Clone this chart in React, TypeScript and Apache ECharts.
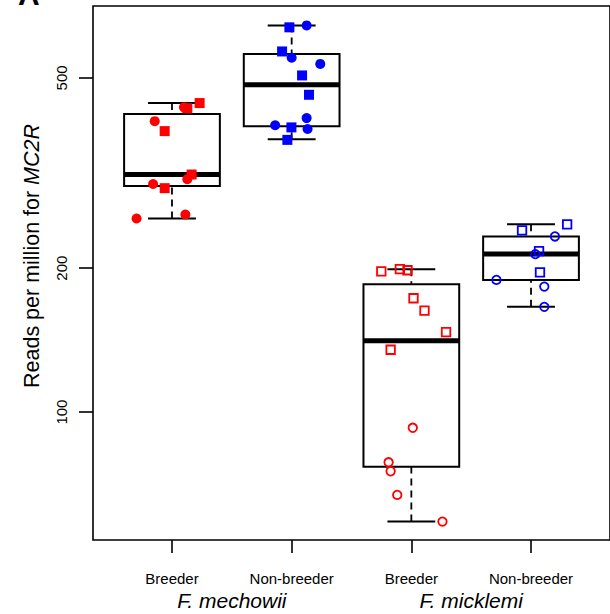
import React, { useEffect, useRef } from "react";
import * as echarts from "echarts";

// ---------- data ----------
const groupLabels = ["Breeder", "Non-breeder", "Breeder", "Non-breeder"];
const speciesLabels = ["F. mechowii", "F. micklemi"];
const speciesPositions = [1.5, 3.5];
const yTickValues = [100, 200, 500];
const yRange = [54, 707];

// box statistics: [lower whisker, Q1, median, Q3, upper whisker]
const boxMechowiiBreeder = [254, 297, 314, 420, 443];
const boxMechowiiNon = [372, 396, 484, 561, 644];
const boxMicklemiBreeder = [59, 76.8, 141, 185, 199];
const boxMicklemiNon = [166, 189, 214, 233, 247];

// individual samples (value, horizontal jitter, shape c = circle / s = square)
const ptsMechowiiBreeder = [254, 259, 443, 432, 434, 406, 387, 314, 307, 300, 294];
const jitMechowiiBreeder = [-0.296, 0.112, 0.231, 0.128, 0.1, -0.144, -0.061, 0.164, 0.128, -0.158, -0.061];
const shpMechowiiBreeder = ["c", "c", "s", "s", "c", "c", "s", "s", "c", "c", "s"];

const ptsMechowiiNon = [638, 644, 568, 551, 535, 506, 461, 412, 398, 394, 391, 371];
const jitMechowiiNon = [-0.019, 0.125, -0.08, 0.0, 0.239, 0.087, 0.145, 0.125, -0.138, -0.002, 0.133, -0.036];
const shpMechowiiNon = ["s", "c", "s", "c", "c", "s", "s", "c", "c", "s", "c", "s"];

const ptsMicklemiBreeder = [197, 199, 198, 173, 163, 147, 135, 92.7, 78.5, 75.2, 67.1, 59.0];
const jitMicklemiBreeder = [-0.251, -0.096, -0.032, 0.018, 0.11, 0.29, -0.173, 0.012, -0.19, -0.173, -0.118, 0.26];
const shpMicklemiBreeder = ["s", "s", "s", "s", "s", "s", "s", "c", "c", "c", "c", "c"];

const ptsMicklemiNon = [240, 247, 233, 217, 214, 196, 189, 183, 166];
const jitMicklemiNon = [-0.075, 0.302, 0.2, 0.067, 0.036, 0.075, -0.289, 0.111, 0.111];
const shpMicklemiNon = ["s", "s", "c", "s", "c", "s", "c", "c", "c"];

const RED = "#FF0000";
const BLUE = "#0000FF";
const FONT = "'Liberation Sans', Arial, Helvetica, sans-serif";

const lg = (v: number) => Math.log10(v);

const boxes = [boxMechowiiBreeder, boxMechowiiNon, boxMicklemiBreeder, boxMicklemiNon];
const groupsPts = [
  { pts: ptsMechowiiBreeder, jit: jitMechowiiBreeder, shp: shpMechowiiBreeder, color: RED, filled: true },
  { pts: ptsMechowiiNon, jit: jitMechowiiNon, shp: shpMechowiiNon, color: BLUE, filled: true },
  { pts: ptsMicklemiBreeder, jit: jitMicklemiBreeder, shp: shpMicklemiBreeder, color: RED, filled: false },
  { pts: ptsMicklemiNon, jit: jitMicklemiNon, shp: shpMicklemiNon, color: BLUE, filled: false },
];

export default function App() {
  const ref = useRef<HTMLDivElement>(null);
  useEffect(() => {
    if (!ref.current) return;
    const chart = echarts.init(ref.current, null, { renderer: "svg" });

    const boxData = boxes.map((b, i) => [i + 1, ...b.map(lg)]);

    const scatterSeries = groupsPts.map((g, gi) => ({
      type: "scatter",
      xAxisIndex: 0,
      yAxisIndex: 0,
      z: 5,
      silent: true,
      data: g.pts.map((v, k) => {
        const isSq = g.shp[k] === "s";
        return {
          value: [gi + 1 + g.jit[k], lg(v)],
          symbol: isSq ? "rect" : "circle",
          symbolSize: g.filled ? 10 : 8.5,
          itemStyle: g.filled
            ? { color: g.color, borderWidth: 0, opacity: 1 }
            : { color: "rgba(0,0,0,0)", borderColor: g.color, borderWidth: 1.8, opacity: 1 },
        };
      }),
    }));

    const option: any = {
      animation: false,
      grid: {
        left: 93,
        top: 6,
        width: 519,
        height: 534,
        show: true,
        borderColor: "#000",
        borderWidth: 1.6,
        backgroundColor: "transparent",
      },
      xAxis: [
        {
          type: "value",
          min: 0.34,
          max: 4.66,
          position: "bottom",
          axisLine: { show: false },
          splitLine: { show: false },
          axisTick: {
            show: true,
            customValues: [1, 2, 3, 4],
            length: 13,
            lineStyle: { color: "#000", width: 1.6 },
          },
          axisLabel: {
            customValues: [1, 2, 3, 4],
            formatter: (v: number) => groupLabels[Math.round(v) - 1],
            margin: 31,
            fontSize: 15,
            fontFamily: FONT,
            color: "#000",
          },
        },
        {
          type: "value",
          min: 0.34,
          max: 4.66,
          position: "bottom",
          axisLine: { show: false },
          splitLine: { show: false },
          axisTick: { show: false },
          axisLabel: {
            customValues: speciesPositions,
            formatter: (v: number) => speciesLabels[speciesPositions.indexOf(v)] ?? "",
            margin: 50,
            fontSize: 21,
            fontStyle: "italic",
            fontFamily: FONT,
            color: "#000",
          },
        },
      ],
      yAxis: {
        type: "value",
        min: lg(yRange[0]),
        max: lg(yRange[1]),
        axisLine: { show: false },
        splitLine: { show: false },
        axisTick: {
          show: true,
          customValues: yTickValues.map(lg),
          length: 14,
          lineStyle: { color: "#000", width: 1.6 },
        },
        axisLabel: {
          customValues: yTickValues.map(lg),
          formatter: (v: number) => String(Math.round(Math.pow(10, v))),
          rotate: 90,
          margin: 24,
          fontSize: 15,
          fontFamily: FONT,
          color: "#000",
        },
      },
      graphic: [
        {
          type: "text",
          x: 32,
          y: 256,
          rotation: Math.PI / 2,
          style: {
            text: "Reads per million for {i|MC2R}",
            fontSize: 21.5,
            fontFamily: FONT,
            fill: "#000",
            align: "center",
            verticalAlign: "middle",
            rich: { i: { fontStyle: "italic", fontSize: 21.5, fontFamily: FONT, color: "#000" } },
          },
        },
        {
          type: "text",
          x: 18,
          y: -6,
          style: {
            text: "A",
            fontSize: 30,
            fontWeight: "bold",
            fontFamily: FONT,
            fill: "#000",
            align: "left",
            verticalAlign: "middle",
          },
        },
      ],
      series: [
        {
          type: "custom",
          xAxisIndex: 0,
          yAxisIndex: 0,
          z: 2,
          silent: true,
          encode: { x: 0, y: [1, 2, 3, 4, 5] },
          data: boxData,
          renderItem: (params: any, api: any) => {
            const x = api.value(0);
            const pLo = api.coord([x, api.value(1)]);
            const cx = pLo[0];
            const yLo = pLo[1];
            const yQ1 = api.coord([x, api.value(2)])[1];
            const yMed = api.coord([x, api.value(3)])[1];
            const yQ3 = api.coord([x, api.value(4)])[1];
            const yHi = api.coord([x, api.value(5)])[1];
            const half = api.size([0.4, 0])[0];
            const cap = half / 2;
            const dashed = { stroke: "#000", lineWidth: 1.8, lineDash: [7, 5], fill: null };
            const solid = { stroke: "#000", lineWidth: 2, fill: null };
            return {
              type: "group",
              children: [
                { type: "line", shape: { x1: cx, y1: yHi, x2: cx, y2: yQ3 }, style: dashed },
                { type: "line", shape: { x1: cx, y1: yLo, x2: cx, y2: yQ1 }, style: dashed },
                { type: "line", shape: { x1: cx - cap, y1: yHi, x2: cx + cap, y2: yHi }, style: solid },
                { type: "line", shape: { x1: cx - cap, y1: yLo, x2: cx + cap, y2: yLo }, style: solid },
                {
                  type: "rect",
                  shape: { x: cx - half, y: yQ3, width: 2 * half, height: yQ1 - yQ3 },
                  style: { stroke: "#000", lineWidth: 2, fill: "none" },
                },
                {
                  type: "line",
                  shape: { x1: cx - half, y1: yMed, x2: cx + half, y2: yMed },
                  style: { stroke: "#000", lineWidth: 5 },
                },
              ],
            };
          },
        },
        ...scatterSeries,
      ],
    };
    chart.setOption(option);
    return () => chart.dispose();
  }, []);

  return (
    <div
      ref={ref}
      style={{ position: "fixed", left: 0, top: 0, width: 610, height: 614, background: "#fff" }}
    />
  );
}
